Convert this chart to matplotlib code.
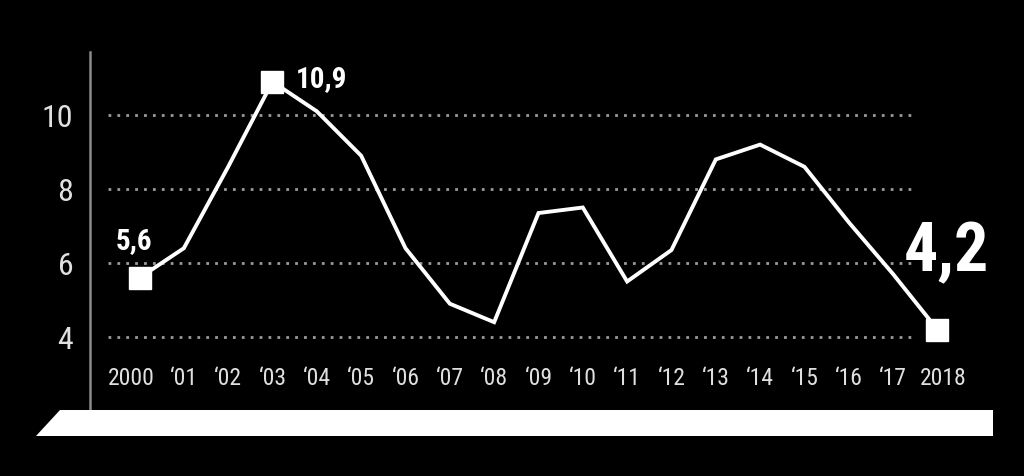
import matplotlib
matplotlib.use("Agg")
import matplotlib.pyplot as plt
from matplotlib import font_manager
from matplotlib.patches import Polygon
from matplotlib.transforms import ScaledTranslation

# ---- data ----
years = list(range(2000, 2019))
values = [5.6, 6.4, 8.6, 10.9, 10.1, 8.9, 6.4, 4.9, 4.4, 7.35, 7.5, 5.5, 6.35,
          8.8, 9.2, 8.6, 7.1, 5.7, 4.2]
x_labels = ["2000", "‘01", "‘02", "‘03", "‘04", "‘05", "‘06", "‘07", "‘08", "‘09",
            "‘10", "‘11", "‘12", "‘13", "‘14", "‘15", "‘16", "‘17", "2018"]
y_ticks = [4, 6, 8, 10]
highlight_idx = [0, 3, 18]
highlight_labels = ["5,6", "10,9", "4,2"]


def pick_font(cands):
    for c in cands:
        try:
            font_manager.findfont(c, fallback_to_default=False)
            return c
        except Exception:
            continue
    return "DejaVu Sans"


FONT = pick_font(["Liberation Sans Narrow", "Roboto Condensed", "Liberation Sans"])
plt.rcParams['font.family'] = [FONT, 'DejaVu Sans']

W, H = 1024, 477
fig = plt.figure(figsize=(W / 100, H / 100), dpi=100, facecolor="black")


def fx(px):
    return px / W


def fy(py):
    return (H - py) / H


# axes placement (pixels)
left_px, right_px, top_px, bot_px = 90, 1000, 53, 410
ax = fig.add_axes([fx(left_px), fy(bot_px), fx(right_px) - fx(left_px), fy(top_px) - fy(bot_px)])
ax.set_facecolor("black")

# pixel <-> data mapping: x=0 at 139.5px, step 44.33 px; y=4 at 338px, 37 px/unit
x0_px, step = 139.5, 44.33
y4_px, unit = 338.0, 37.0
xs = list(range(len(years)))
ax.set_xlim((left_px - x0_px) / step, (right_px - x0_px) / step)
ax.set_ylim(4 - (bot_px - y4_px) / unit, 4 + (y4_px - top_px) / unit)

# gridlines (dotted)
g0 = (108 - x0_px) / step
g1 = (915 - x0_px) / step
ax.hlines(y_ticks, g0, g1, colors="#9a9a9a", linestyles=(0, (1, 2.2)), linewidth=2.0, zorder=1)

# line
ax.plot(xs, values, color="white", linewidth=2.8, solid_joinstyle="miter", zorder=3)
ax.plot([xs[i] for i in highlight_idx], [values[i] for i in highlight_idx],
        linestyle="none", marker="s", markersize=16, color="white", zorder=4)

# annotations
offsets = [(-4, 21.5, "center", 21), (17, -3, "left", 21), (6.5, 43, "center", 49)]
for i, lab, (dx, dy, ha, fs) in zip(highlight_idx, highlight_labels, offsets):
    ax.annotate(lab, xy=(xs[i], values[i]), xytext=(dx, dy), textcoords="offset points",
                ha=ha, va="baseline", color="white", fontsize=fs, fontweight="bold", zorder=5)

# spines
for s in ["top", "right", "bottom"]:
    ax.spines[s].set_visible(False)
ax.spines["left"].set_color("#8a8a8a")
ax.spines["left"].set_linewidth(1.8)

ax.set_yticks(y_ticks)
ax.set_yticklabels([str(v) for v in y_ticks])
ax.set_xticks(xs)
ax.set_xticklabels(x_labels)
ax.tick_params(axis="y", length=0, pad=12, labelsize=23, labelcolor="#e0e0e0")
ax.tick_params(axis="x", length=0, pad=-31, labelsize=17, labelcolor="#e0e0e0")

# nudge the end labels as in the original
xt = ax.get_xticklabels()
xt[0].set_transform(xt[0].get_transform() + ScaledTranslation(-8 / 100, 0, fig.dpi_scale_trans))
xt[-1].set_transform(xt[-1].get_transform() + ScaledTranslation(6 / 100, 0, fig.dpi_scale_trans))

# white base parallelogram
poly = Polygon([(fx(60), fy(411)), (fx(993), fy(411)), (fx(993), fy(437)), (fx(36), fy(437))],
               closed=True, transform=fig.transFigure, facecolor="white", edgecolor="none")
fig.patches.append(poly)

fig.savefig("out.png", dpi=100, facecolor="black")
